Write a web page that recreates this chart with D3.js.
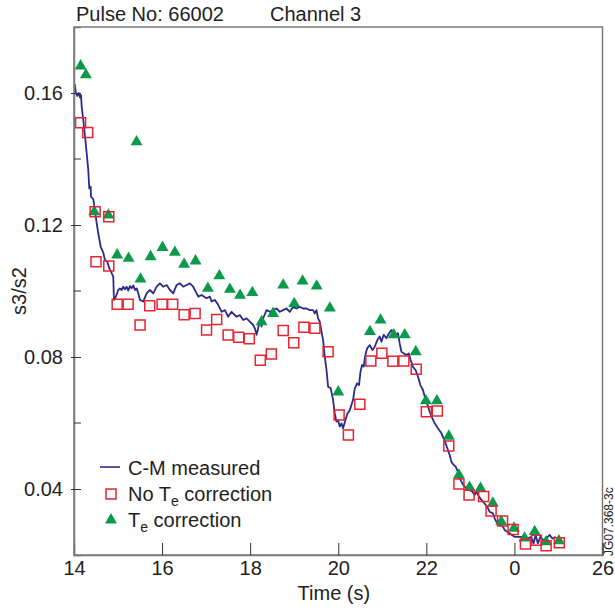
<!DOCTYPE html>
<html>
<head>
<meta charset="utf-8">
<script src="https://cdn.jsdelivr.net/npm/d3@7"></script>
<style>
  body { margin: 0; background: #fff; }
  text { font-family: "Liberation Sans", Arial, sans-serif; fill: #222; }
</style>
</head>
<body>
<div id="wrapper"></div>
<script>
// 1. Data

const xTicks = [14, 16, 18, 20, 22, 24, 26];
const xTickLabels = ["14", "16", "18", "20", "22", "0", "26"];
const yMajorTicks = [0.04, 0.08, 0.12, 0.16];
const yMinorTicks = [0.06, 0.10, 0.14];

// C-M measured trace
const measuredTime = [
  14.016, 14.045, 14.075, 14.107, 14.136, 14.159, 14.175, 14.211, 14.25, 14.288,
  14.324, 14.347, 14.379, 14.386, 14.438, 14.476, 14.515, 14.551, 14.606, 14.665,
  14.703, 14.755, 14.801, 14.855, 14.892, 14.907, 14.946, 15.005, 15.044, 15.082,
  15.118, 15.157, 15.196, 15.232, 15.27, 15.309, 15.345, 15.384, 15.422, 15.459,
  15.497, 15.572, 15.649, 15.724, 15.799, 15.876, 15.951, 16.026, 16.103, 16.178,
  16.253, 16.329, 16.405, 16.48, 16.557, 16.632, 16.706, 16.784, 16.82, 16.897,
  17.01, 17.085, 17.124, 17.199, 17.274, 17.351, 17.426, 17.5, 17.578, 17.691,
  17.766, 17.841, 17.918, 17.993, 18.068, 18.106, 18.145, 18.181, 18.22, 18.258,
  18.294, 18.372, 18.446, 18.521, 18.598, 18.673, 18.748, 18.825, 18.9, 18.975,
  19.052, 19.127, 19.202, 19.279, 19.354, 19.429, 19.467, 19.506, 19.542, 19.581,
  19.619, 19.655, 19.694, 19.733, 19.769, 19.83, 19.882, 19.921, 19.959, 19.996,
  20.034, 20.073, 20.109, 20.164, 20.209, 20.261, 20.336, 20.375, 20.427, 20.472,
  20.504, 20.54, 20.579, 20.608, 20.654, 20.715, 20.776, 20.828, 20.89, 20.942,
  20.98, 21.032, 21.094, 21.153, 21.207, 21.26, 21.321, 21.357, 21.396, 21.434,
  21.486, 21.548, 21.6, 21.645, 21.697, 21.759, 21.811, 21.865, 21.924, 21.963,
  22.015, 22.076, 22.137, 22.19, 22.264, 22.342, 22.378, 22.439, 22.491, 22.53,
  22.568, 22.621, 22.666, 22.718, 22.757, 22.818, 22.87, 22.922, 22.984, 23.045,
  23.097, 23.135, 23.195, 23.249, 23.285, 23.347, 23.399, 23.437, 23.512, 23.551,
  23.589, 23.664, 23.739, 23.777, 23.83, 23.891, 23.952, 24.005, 24.079, 24.157,
  24.231, 24.306, 24.383, 24.435, 24.481, 24.533, 24.588, 24.647, 24.724, 24.799,
  24.86, 24.935
];
const measuredValue = [
  0.1627, 0.1599, 0.1591, 0.1600, 0.1587, 0.1594, 0.1558, 0.1518, 0.1468, 0.1417,
  0.1367, 0.1311, 0.1316, 0.1286, 0.1278, 0.1245, 0.1205, 0.1175, 0.1134, 0.1116,
  0.1094, 0.1089, 0.1069, 0.1054, 0.1043, 0.0973, 0.0981, 0.1003, 0.1008, 0.1003,
  0.1013, 0.1005, 0.1013, 0.1001, 0.1015, 0.1008, 0.1017, 0.1003, 0.1008, 0.0993,
  0.0973, 0.0968, 0.0993, 0.1003, 0.0993, 0.1013, 0.1023, 0.1013, 0.1018, 0.1003,
  0.0993, 0.1018, 0.1023, 0.1013, 0.1018, 0.1023, 0.1013, 0.0993, 0.0983, 0.0988,
  0.0978, 0.0983, 0.0968, 0.0973, 0.0958, 0.0937, 0.0942, 0.0922, 0.0937, 0.0922,
  0.0927, 0.0912, 0.0917, 0.0907, 0.0897, 0.0887, 0.0867, 0.0887, 0.0912, 0.0892,
  0.0917, 0.0942, 0.0937, 0.0942, 0.0947, 0.0937, 0.0942, 0.0947, 0.0937, 0.0952,
  0.0947, 0.0952, 0.0947, 0.0947, 0.0942, 0.0942, 0.0932, 0.0942, 0.0917, 0.0907,
  0.0877, 0.0852, 0.0801, 0.0761, 0.0710, 0.0705, 0.0670, 0.0629, 0.0604, 0.0609,
  0.0589, 0.0599, 0.0584, 0.0609, 0.0629, 0.0639, 0.0670, 0.0705, 0.0720, 0.0715,
  0.0755, 0.0776, 0.0771, 0.0801, 0.0826, 0.0836, 0.0821, 0.0831, 0.0852, 0.0862,
  0.0846, 0.0867, 0.0857, 0.0872, 0.0882, 0.0872, 0.0867, 0.0872, 0.0841, 0.0816,
  0.0811, 0.0806, 0.0811, 0.0791, 0.0770, 0.0760, 0.0740, 0.0715, 0.0700, 0.0680,
  0.0660, 0.0634, 0.0614, 0.0599, 0.0584, 0.0569, 0.0558, 0.0538, 0.0518, 0.0503,
  0.0483, 0.0473, 0.0468, 0.0452, 0.0432, 0.0417, 0.0407, 0.0402, 0.0397, 0.0392,
  0.0382, 0.0392, 0.0377, 0.0367, 0.0362, 0.0352, 0.0342, 0.0331, 0.0326, 0.0311,
  0.0301, 0.0291, 0.0286, 0.0276, 0.0271, 0.0266, 0.0260, 0.0255, 0.0255, 0.0255,
  0.0255, 0.0250, 0.0255, 0.0235, 0.0261, 0.0235, 0.0255, 0.0245, 0.0250, 0.0261,
  0.0250, 0.0255
];

// No Te correction (squares)
const noCorrTime = [
  14.15, 14.31, 14.48, 14.79, 14.50, 14.79, 14.98, 15.23, 15.50, 15.72,
  16.00, 16.24, 16.50, 16.75, 17.01, 17.24, 17.50, 17.74, 17.98, 18.23,
  18.48, 18.75, 18.99, 19.22, 19.47, 19.77, 20.02, 20.23, 20.49, 20.74,
  20.99, 21.24, 21.49, 21.77, 22.00, 22.25, 22.51, 22.74, 22.97, 23.30,
  23.47, 23.73, 23.97, 24.25, 24.50, 24.72, 25.02
];
const noCorrValue = [
  0.1510, 0.1480, 0.1240, 0.1225, 0.1089, 0.1076, 0.0960, 0.0960, 0.0897, 0.0955,
  0.0960, 0.0960, 0.0928, 0.0932, 0.0882, 0.0914, 0.0867, 0.0860, 0.0855, 0.0790,
  0.0809, 0.0880, 0.0843, 0.0890, 0.0887, 0.0816, 0.0624, 0.0564, 0.0657, 0.0788,
  0.0811, 0.0787, 0.0788, 0.0763, 0.0634, 0.0636, 0.0530, 0.0415, 0.0382, 0.0377,
  0.0333, 0.0303, 0.0277, 0.0233, 0.0245, 0.0228, 0.0237
];

// Te correction (triangles)
const teCorrTime = [
  14.15, 14.27, 15.42, 14.46, 14.78, 14.98, 15.24, 15.51, 15.74, 16.01,
  16.29, 16.50, 16.76, 17.04, 17.30, 17.54, 17.77, 18.05, 18.26, 18.52,
  18.75, 19.00, 19.19, 19.51, 19.81, 20.00, 20.72, 20.96, 21.26, 21.51,
  21.76, 21.99, 22.24, 22.51, 22.74, 22.98, 23.23, 23.51, 23.70, 23.99,
  24.23, 24.46, 24.72, 25.01
];
const teCorrValue = [
  0.1682, 0.1655, 0.1452, 0.1240, 0.1230, 0.1109, 0.1099, 0.1036, 0.1104, 0.1132,
  0.1117, 0.1081, 0.1091, 0.1008, 0.1046, 0.1005, 0.0987, 0.0995, 0.0907, 0.0932,
  0.1018, 0.0962, 0.1030, 0.1015, 0.0948, 0.0694, 0.0877, 0.0912, 0.0867, 0.0867,
  0.0816, 0.0667, 0.0667, 0.0560, 0.0442, 0.0405, 0.0402, 0.0357, 0.0301, 0.0281,
  0.0251, 0.0271, 0.0240, 0.0243
];

const measured = measuredTime.map((t, i) => ({ t, v: measuredValue[i] }));
const noCorr = noCorrTime.map((t, i) => ({ t, v: noCorrValue[i] }));
const teCorr = teCorrTime.map((t, i) => ({ t, v: teCorrValue[i] }));

// 2. Dimensions

let dimensions = {
  width: 615,
  height: 610,
  margin: { top: 27, right: 12.5, bottom: 55, left: 74 }
};
dimensions.boundedWidth = dimensions.width - dimensions.margin.left - dimensions.margin.right;
dimensions.boundedHeight = dimensions.height - dimensions.margin.top - dimensions.margin.bottom;

const lineColor = "#2b2b8c";
const squareColor = "#e82430";
const triangleColor = "#0b9a4c";
const frameColor = "#7a7a7a";

// 3. Canvas

const wrapper = d3.select("#wrapper")
  .append("svg")
  .attr("width", dimensions.width)
  .attr("height", dimensions.height);

const bounds = wrapper.append("g")
  .attr("transform", `translate(${dimensions.margin.left},${dimensions.margin.top})`);

// 4. Scales

const xScale = d3.scaleLinear()
  .domain([14, 26])
  .range([0, dimensions.boundedWidth]);

const yScale = d3.scaleLinear()
  .domain([0.02, 0.18])
  .range([dimensions.boundedHeight, 0]);

// 5. Data

const lineGenerator = d3.line()
  .x(d => xScale(d.t))
  .y(d => yScale(d.v));

bounds.append("path")
  .attr("d", lineGenerator(measured))
  .attr("fill", "none")
  .attr("stroke", lineColor)
  .attr("stroke-width", 1.8)
  .attr("stroke-linejoin", "round");

const triangle = d3.symbol().type(d3.symbolTriangle).size(62);
const square = d3.symbol().type(d3.symbolSquare).size(100);

bounds.append("g")
  .selectAll("path")
  .data(teCorr)
  .join("path")
  .attr("d", triangle)
  .attr("transform", d => `translate(${xScale(d.t)},${yScale(d.v)})`)
  .attr("fill", triangleColor);

bounds.append("g")
  .selectAll("path")
  .data(noCorr)
  .join("path")
  .attr("d", square)
  .attr("transform", d => `translate(${xScale(d.t)},${yScale(d.v)})`)
  .attr("fill", "none")
  .attr("stroke", squareColor)
  .attr("stroke-width", 1.5);

// 6. Peripherals

bounds.append("rect")
  .attr("width", dimensions.boundedWidth)
  .attr("height", dimensions.boundedHeight)
  .attr("fill", "none")
  .attr("stroke", frameColor)
  .attr("stroke-width", 1.5);

const xAxisGenerator = d3.axisBottom(xScale)
  .tickValues(xTicks)
  .tickFormat((d, i) => xTickLabels[i])
  .tickSize(-12)
  .tickPadding(6);

const xAxis = bounds.append("g")
  .attr("transform", `translate(0,${dimensions.boundedHeight})`)
  .call(xAxisGenerator);

const yAxisGenerator = d3.axisLeft(yScale)
  .tickValues(yMajorTicks)
  .tickFormat(d3.format(".2f"))
  .tickSize(-7)
  .tickPadding(11);

const yAxis = bounds.append("g").call(yAxisGenerator);
yAxis.selectAll(".tick line").attr("x1", -3);

bounds.append("g")
  .selectAll("line")
  .data(yMinorTicks)
  .join("line")
  .attr("x1", 0)
  .attr("x2", 7)
  .attr("y1", d => yScale(d))
  .attr("y2", d => yScale(d))
  .attr("stroke", "#333");

[xAxis, yAxis].forEach(axis => {
  axis.select(".domain").attr("stroke", frameColor).attr("stroke-width", 1.5);
  axis.selectAll(".tick line").attr("stroke", "#333");
  axis.selectAll(".tick text")
    .attr("font-size", 20)
    .attr("font-family", "Liberation Sans, Arial, sans-serif")
    .attr("fill", "#222");
});

// titles and labels
wrapper.append("text")
  .attr("x", 76)
  .attr("y", 21)
  .attr("font-size", 20)
  .text("Pulse No: 66002");

wrapper.append("text")
  .attr("x", 270)
  .attr("y", 21)
  .attr("font-size", 20)
  .text("Channel 3");

wrapper.append("text")
  .attr("x", dimensions.margin.left + xScale(19.9))
  .attr("y", 600)
  .attr("text-anchor", "middle")
  .attr("font-size", 20)
  .text("Time (s)");

wrapper.append("text")
  .attr("transform", `translate(26,${dimensions.margin.top + dimensions.boundedHeight / 2}) rotate(-90)`)
  .attr("text-anchor", "middle")
  .attr("font-size", 20)
  .text("s3/s2");

wrapper.append("text")
  .attr("transform", `translate(613,556) rotate(-90)`)
  .attr("font-size", 12)
  .text("JG07.368-3c");

// legend
const legend = wrapper.append("g").attr("transform", "translate(100,0)");

legend.append("line")
  .attr("x1", 0).attr("x2", 20)
  .attr("y1", 467).attr("y2", 467)
  .attr("stroke", lineColor)
  .attr("stroke-width", 1.6);

legend.append("path")
  .attr("d", square)
  .attr("transform", "translate(11,494)")
  .attr("fill", "none")
  .attr("stroke", squareColor)
  .attr("stroke-width", 1.5);

legend.append("path")
  .attr("d", triangle)
  .attr("transform", "translate(11,520)")
  .attr("fill", triangleColor);

legend.append("text")
  .attr("x", 28).attr("y", 475)
  .attr("font-size", 20)
  .text("C-M measured");

const noCorrLabel = legend.append("text")
  .attr("x", 28).attr("y", 501)
  .attr("font-size", 20);
noCorrLabel.append("tspan").text("No T");
noCorrLabel.append("tspan").attr("dy", 5).attr("font-size", 14).text("e");
noCorrLabel.append("tspan").attr("dy", -5).text(" correction");

const teCorrLabel = legend.append("text")
  .attr("x", 28).attr("y", 527)
  .attr("font-size", 20);
teCorrLabel.append("tspan").text("T");
teCorrLabel.append("tspan").attr("dy", 5).attr("font-size", 14).text("e");
teCorrLabel.append("tspan").attr("dy", -5).text(" correction");
</script>
</body>
</html>
